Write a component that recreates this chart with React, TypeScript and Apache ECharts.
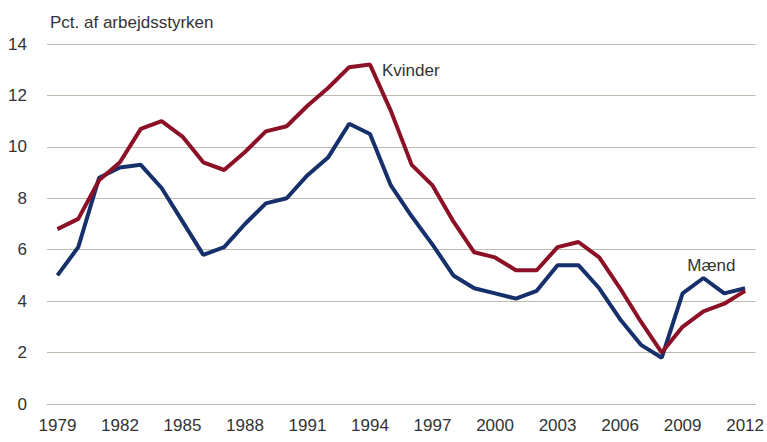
import React, { useEffect, useRef } from "react";
import * as echarts from "echarts";

const years = [
  "1979","1980","1981","1982","1983","1984","1985","1986","1987","1988","1989",
  "1990","1991","1992","1993","1994","1995","1996","1997","1998","1999","2000",
  "2001","2002","2003","2004","2005","2006","2007","2008","2009","2010","2011","2012",
];

const kvinder = [
  6.8, 7.2, 8.7, 9.4, 10.7, 11.0, 10.4, 9.4, 9.1, 9.8, 10.6,
  10.8, 11.6, 12.3, 13.1, 13.2, 11.4, 9.3, 8.5, 7.1, 5.9, 5.7,
  5.2, 5.2, 6.1, 6.3, 5.7, 4.5, 3.2, 2.0, 3.0, 3.6, 3.9, 4.4,
];

const maend = [
  5.0, 6.1, 8.8, 9.2, 9.3, 8.4, 7.1, 5.8, 6.1, 7.0, 7.8,
  8.0, 8.9, 9.6, 10.9, 10.5, 8.5, 7.3, 6.2, 5.0, 4.5, 4.3,
  4.1, 4.4, 5.4, 5.4, 4.5, 3.3, 2.3, 1.8, 4.3, 4.9, 4.3, 4.5,
];

const FONT = "'Liberation Sans Narrow', 'Arial Narrow', 'Liberation Sans', sans-serif";
const TEXT = "#333333";
const RED = "#8c1127";
const BLUE = "#15306b";

export default function App() {
  const ref = useRef<HTMLDivElement>(null);
  useEffect(() => {
    if (!ref.current) return;
    const chart = echarts.init(ref.current, undefined, { renderer: "svg" });
    chart.setOption({
      animation: false,
      backgroundColor: "#ffffff",
      textStyle: { fontFamily: FONT },
      title: {
        text: "Pct. af arbejdsstyrken",
        left: 45,
        top: 9,
        textStyle: { fontFamily: FONT, fontSize: 17, fontWeight: "normal", color: TEXT },
      },
      grid: { left: 47, right: 10, top: 44, bottom: 38, containLabel: false },
      xAxis: {
        type: "category",
        data: years,
        boundaryGap: true,
        axisLine: { show: true, lineStyle: { color: "#bdbbad", width: 1 } },
        axisTick: { show: false },
        axisLabel: {
          interval: 2,
          margin: 13,
          fontFamily: FONT,
          fontSize: 17,
          color: TEXT,
        },
        splitLine: { show: false },
      },
      yAxis: {
        type: "value",
        min: 0,
        max: 14,
        interval: 2,
        axisLine: { show: false },
        axisTick: { show: false },
        axisLabel: { margin: 20, fontFamily: FONT, fontSize: 17, color: TEXT },
        splitLine: { show: true, lineStyle: { color: "#bdbbad", width: 1 } },
      },
      series: [
        {
          name: "Mænd",
          type: "line",
          data: maend,
          showSymbol: false,
          symbol: "none",
          lineStyle: { color: BLUE, width: 4 },
          itemStyle: { color: BLUE },
          z: 2,
          markPoint: {
            symbol: "circle",
            symbolSize: 0,
            data: [{ coord: ["2010", 4.9] }],
            label: {
              show: true,
              formatter: "Mænd",
              position: "top",
              distance: 4,
              offset: [8, 0],
              fontFamily: FONT,
              fontSize: 17,
              color: TEXT,
            },
          },
        },
        {
          name: "Kvinder",
          type: "line",
          data: kvinder,
          showSymbol: false,
          symbol: "none",
          lineStyle: { color: RED, width: 4 },
          itemStyle: { color: RED },
          z: 3,
          markPoint: {
            symbol: "circle",
            symbolSize: 0,
            data: [{ coord: ["1994", 13.2] }],
            label: {
              show: true,
              formatter: "Kvinder",
              position: "right",
              distance: 12,
              offset: [0, 6],
              fontFamily: FONT,
              fontSize: 17,
              color: TEXT,
            },
          },
        },
      ],
    });
    return () => chart.dispose();
  }, []);
  return <div ref={ref} style={{ width: 767, height: 442, position: "absolute", left: 0, top: 0 }} />;
}
